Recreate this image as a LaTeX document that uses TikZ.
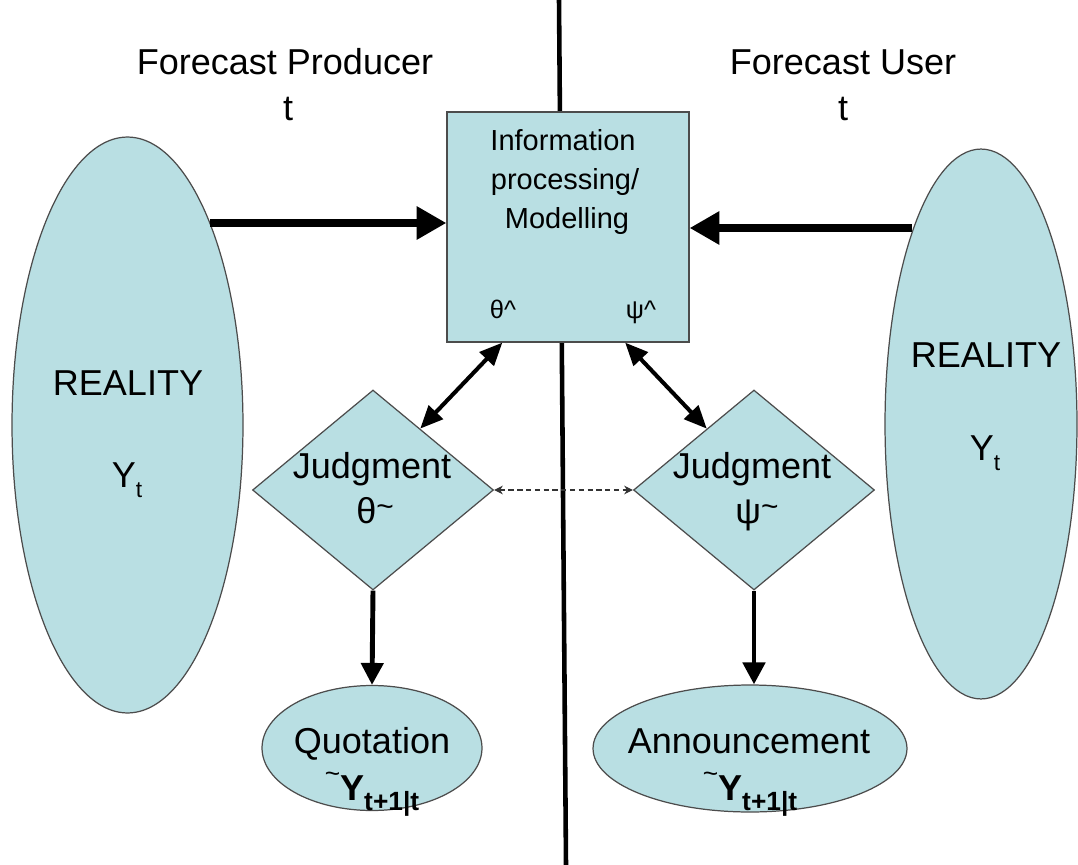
\documentclass[tikz,border=0pt]{standalone}
\usepackage{fontspec}
\setmainfont{Liberation Sans}
\usetikzlibrary{arrows.meta, shapes.geometric, calc}

\definecolor{paleblue}{RGB}{185,223,227}

\begin{document}
\begin{tikzpicture}[x=0.02cm, y=-0.02cm, >=Stealth,
  shapefill/.style={draw=black!70, fill=paleblue, line width=0.7pt, inner sep=0pt},
  bigtext/.style={font=\fontsize{20.5}{24}\selectfont, anchor=base, inner sep=0pt},
  boxtext/.style={font=\fontsize{16.5}{19}\selectfont, anchor=base, inner sep=0pt},
  hattext/.style={font=\fontsize{14.5}{16}\selectfont, anchor=base, inner sep=0pt},
  feed/.style={-{Triangle[length=17pt, width=18pt]}, line width=4.5pt},
  link/.style={{Triangle[length=13pt, width=11pt]}-{Triangle[length=13pt, width=11pt]}, line width=2.3pt},
  flow/.style={-{Triangle[length=12.5pt, width=12.5pt]}, line width=2.8pt},
  peer/.style={{Stealth[length=5pt, width=5pt]}-{Stealth[length=5pt, width=5pt]}, line width=0.6pt, black!80, dash pattern=on 3pt off 2pt},
]

\useasboundingbox (0,0) rectangle (1078,865);

% --- Divider ---
\coordinate (top) at (559,0);
\coordinate (bottom) at (566,865);
\draw[line width=2.6pt] (top) -- (bottom);

% --- Headers ---
\node[bigtext] (producer) at (285,75) {Forecast Producer};
\node[bigtext] (tprod) at (288,120) {t};
\node[bigtext] (user) at (843,75) {Forecast User};
\node[bigtext] (tuser) at (843,120) {t};

% --- Reality ---
\node[shapefill, ellipse, minimum width=4.62cm, minimum height=11.52cm] (realL) at (127.5,425) {};
\node[shapefill, ellipse, minimum width=3.84cm, minimum height=11.0cm] (realR) at (981,424) {};
\node[bigtext] (realLtxt) at (128,395) {REALITY};
\node[bigtext] (ytL) at (127,487) {Y\raisebox{-5.7pt}{\fontsize{13}{14}\selectfont t}};
\node[bigtext] (realRtxt) at (986,367) {REALITY};
\node[bigtext] (ytR) at (985,460) {Y\raisebox{-5.7pt}{\fontsize{13}{14}\selectfont t}};

% --- Model box ---
\node[shapefill, rectangle, minimum width=4.84cm, minimum height=4.6cm] (info) at (568,227) {};
\node[boxtext] (info1) at (563,151) {Information};
\node[boxtext] (info2) at (565,189) {processing/};
\node[boxtext] (info3) at (567,228) {Modelling};
\node[hattext] (thhat) at (503,318) {θ\textasciicircum};
\node[hattext] (pshat) at (641,318) {ψ\textasciicircum};

% --- Judgment ---
\node[shapefill, diamond, minimum width=4.82cm, minimum height=4cm] (judgeL) at (373,490) {};
\node[shapefill, diamond, minimum width=4.82cm, minimum height=4cm] (judgeR) at (754,490) {};
\node[bigtext] (jL) at (372,478) {Judgment};
\node[bigtext] (thL) at (375,523) {θ\smash{\raisebox{3.5pt}{\fontsize{17}{17}\selectfont\textasciitilde}}};
\node[bigtext] (jR) at (752,478) {Judgment};
\node[bigtext] (psR) at (757,523) {ψ\smash{\raisebox{3.5pt}{\fontsize{17}{17}\selectfont\textasciitilde}}};

% --- Outputs ---
\node[shapefill, ellipse, minimum width=4.4cm, minimum height=2.5cm] (quote) at (372,748) {};
\node[shapefill, ellipse, minimum width=6.28cm, minimum height=2.54cm] (announce) at (750,748.5) {};
\node[bigtext] (qtxt) at (372,753) {Quotation};
\node[bigtext] (qy) at (372,800) {\smash{\raisebox{10pt}{\fontsize{15}{15}\selectfont\textasciitilde}}\textbf{Y}\raisebox{-5.7pt}{\fontsize{15}{15}\selectfont\bfseries t+1|t}};
\node[bigtext] (atxt) at (749,753) {Announcement};
\node[bigtext] (ay) at (750,800) {\smash{\raisebox{10pt}{\fontsize{15}{15}\selectfont\textasciitilde}}\textbf{Y}\raisebox{-5.7pt}{\fontsize{15}{15}\selectfont\bfseries t+1|t}};

% --- Arrows ---
\coordinate (lstart) at (210,223);
\coordinate (rstart) at (912,228);
\draw[feed] (lstart) -- (lstart -| info.west);
\draw[feed] (rstart) -- (rstart -| info.east);

\draw[link] ($(info.south west)!0.23!(info.south east)$) -- ($(judgeL.north)!0.39!(judgeL.east)$);
\draw[link] ($(info.south west)!0.735!(info.south east)$) -- ($(judgeR.north)!0.39!(judgeR.west)$);
\draw[peer] (judgeL.east) -- (judgeR.west);

\draw[flow] (judgeL.south) -- (quote.north);
\draw[flow] (judgeR.south) -- (judgeR.south |- announce.north);

\end{tikzpicture}
\end{document}
